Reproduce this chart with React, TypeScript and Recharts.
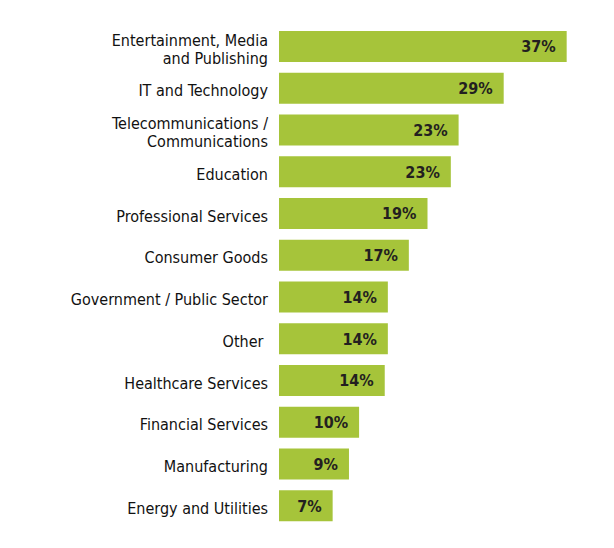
import React from 'react';
import { BarChart, Bar, XAxis, YAxis, LabelList } from 'recharts';

const categories = [
    'Entertainment, Media\nand Publishing',
    'IT and Technology',
    'Telecommunications /\nCommunications',
    'Education',
    'Professional Services',
    'Consumer Goods',
    'Government / Public Sector',
    'Other\u00a0',
    'Healthcare Services',
    'Financial Services',
    'Manufacturing',
    'Energy and Utilities',
];

// bar lengths
const shares = [37, 28.9, 23.1, 22.1, 19.1, 16.7, 14.0, 14.0, 13.6, 10.3, 9.0, 6.9];
// printed labels
const shareLabels = ['37%', '29%', '23%', '23%', '19%', '17%', '14%', '14%', '14%', '10%', '9%', '7%'];

const data = categories.map((name, i) => ({ name, value: shares[i], label: shareLabels[i] }));

const FONT = '"Liberation Sans Narrow", "DejaVu Sans Condensed", "Arial Narrow", sans-serif';
const GREEN = '#a6c43a';

const CategoryTick = (props: any) => {
    const { x, y, payload } = props;
    const lines = String(payload.value).split('\n');
    const lineH = 18;
    const startY = y - ((lines.length - 1) * lineH) / 2 + 2;
    return (
        <text x={x} y={startY} textAnchor="end" fill="#111" fontFamily={FONT} fontSize={16}>
            {lines.map((line, i) => (
                <tspan key={i} x={x} y={startY + i * lineH} dy="0.36em">
                    {line}
                </tspan>
            ))}
        </text>
    );
};

const ValueLabel = (props: any) => {
    const { x, y, width, height, value } = props;
    return (
        <text
            x={x + width - 11}
            y={y + height / 2}
            dy="0.36em"
            textAnchor="end"
            fill="#231f20"
            fontFamily={FONT}
            fontWeight="bold"
            fontSize={16}
        >
            {value}
        </text>
    );
};

export default function App() {
    return (
        <div style={{ position: 'absolute', left: 0, top: 0, width: 614, height: 548, background: '#fff' }}>
            <BarChart
                width={614}
                height={548}
                data={data}
                layout="vertical"
                margin={{ top: 26, right: 24, bottom: 21, left: 0 }}
            >
                <XAxis type="number" domain={[0, 40]} hide />
                <YAxis
                    type="category"
                    dataKey="name"
                    width={279}
                    axisLine={false}
                    tickLine={false}
                    tickMargin={5}
                    tick={<CategoryTick />}
                    interval={0}
                />
                <Bar dataKey="value" fill={GREEN} barSize={31} isAnimationActive={false}>
                    <LabelList dataKey="label" content={<ValueLabel />} />
                </Bar>
            </BarChart>
        </div>
    );
}
